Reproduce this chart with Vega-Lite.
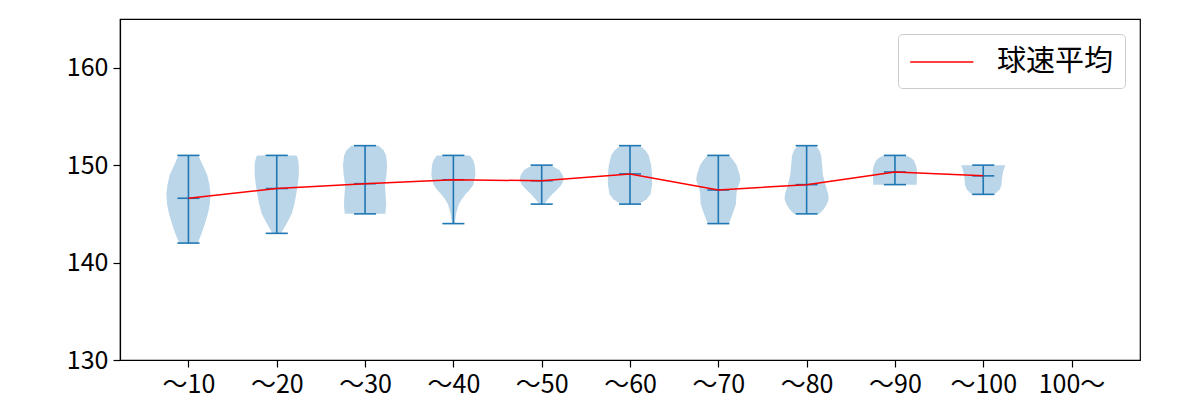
{
  "$schema": "https://vega.github.io/schema/vega-lite/v6.json",
  "autosize": {"type": "none"},
  "width": 1020,
  "height": 341,
  "padding": {"left": 120, "top": 19, "right": 60, "bottom": 40},
  "background": "white",
  "config": {
    "font": "Noto Sans CJK JP",
    "view": {"stroke": "black", "strokeWidth": 1.2},
    "axis": {
      "domainColor": "black", "domainWidth": 1.2,
      "tickColor": "black", "tickWidth": 1.2, "tickSize": 7,
      "labelColor": "black", "labelFont": "Noto Sans CJK JP", "labelFontSize": 25,
      "labelPadding": 5, "grid": false, "title": null
    },
    "legend": {
      "labelFont": "Noto Sans CJK JP", "labelFontSize": 29, "labelColor": "black"
    }
  },
  "datasets": {
    "violin": [
      {"c": 1, "v": 151, "d": 0.45}, {"c": 1, "v": 150, "d": 0.65}, {"c": 1, "v": 149, "d": 0.85}, {"c": 1, "v": 148, "d": 0.95}, {"c": 1, "v": 147, "d": 1.0}, {"c": 1, "v": 146, "d": 0.97}, {"c": 1, "v": 145, "d": 0.88}, {"c": 1, "v": 144, "d": 0.75}, {"c": 1, "v": 143, "d": 0.6}, {"c": 1, "v": 142, "d": 0.42},
      {"c": 2, "v": 151, "d": 0.9}, {"c": 2, "v": 150.5, "d": 0.97}, {"c": 2, "v": 150, "d": 1.0}, {"c": 2, "v": 149, "d": 1.0}, {"c": 2, "v": 148, "d": 0.95}, {"c": 2, "v": 147, "d": 0.88}, {"c": 2, "v": 146, "d": 0.8}, {"c": 2, "v": 145, "d": 0.68}, {"c": 2, "v": 144, "d": 0.45}, {"c": 2, "v": 143, "d": 0.2},
      {"c": 3, "v": 152, "d": 0.62}, {"c": 3, "v": 151.5, "d": 0.85}, {"c": 3, "v": 151, "d": 0.95}, {"c": 3, "v": 150, "d": 1.0}, {"c": 3, "v": 149, "d": 0.97}, {"c": 3, "v": 148, "d": 0.9}, {"c": 3, "v": 147, "d": 0.93}, {"c": 3, "v": 146, "d": 0.96}, {"c": 3, "v": 145, "d": 0.92},
      {"c": 4, "v": 151, "d": 0.75}, {"c": 4, "v": 150.5, "d": 0.9}, {"c": 4, "v": 150, "d": 0.97}, {"c": 4, "v": 149, "d": 1.0}, {"c": 4, "v": 148, "d": 0.9}, {"c": 4, "v": 147.5, "d": 0.75}, {"c": 4, "v": 147, "d": 0.55}, {"c": 4, "v": 146.5, "d": 0.38}, {"c": 4, "v": 146, "d": 0.25}, {"c": 4, "v": 145, "d": 0.12}, {"c": 4, "v": 144, "d": 0.06},
      {"c": 5, "v": 150, "d": 0.42}, {"c": 5, "v": 149.5, "d": 0.8}, {"c": 5, "v": 149, "d": 0.95}, {"c": 5, "v": 148.5, "d": 1.0}, {"c": 5, "v": 148, "d": 0.9}, {"c": 5, "v": 147.5, "d": 0.7}, {"c": 5, "v": 147, "d": 0.48}, {"c": 5, "v": 146.5, "d": 0.28}, {"c": 5, "v": 146, "d": 0.12},
      {"c": 6, "v": 152, "d": 0.45}, {"c": 6, "v": 151.5, "d": 0.7}, {"c": 6, "v": 151, "d": 0.85}, {"c": 6, "v": 150, "d": 0.96}, {"c": 6, "v": 149, "d": 1.0}, {"c": 6, "v": 148, "d": 1.0}, {"c": 6, "v": 147, "d": 0.93}, {"c": 6, "v": 146.5, "d": 0.75}, {"c": 6, "v": 146, "d": 0.42},
      {"c": 7, "v": 151, "d": 0.5}, {"c": 7, "v": 150.5, "d": 0.68}, {"c": 7, "v": 150, "d": 0.83}, {"c": 7, "v": 149, "d": 0.97}, {"c": 7, "v": 148.5, "d": 1.0}, {"c": 7, "v": 148, "d": 0.93}, {"c": 7, "v": 147.5, "d": 0.85}, {"c": 7, "v": 147, "d": 0.82}, {"c": 7, "v": 146, "d": 0.8}, {"c": 7, "v": 145, "d": 0.65}, {"c": 7, "v": 144, "d": 0.48},
      {"c": 8, "v": 152, "d": 0.42}, {"c": 8, "v": 151.5, "d": 0.58}, {"c": 8, "v": 151, "d": 0.66}, {"c": 8, "v": 150, "d": 0.7}, {"c": 8, "v": 149, "d": 0.74}, {"c": 8, "v": 148, "d": 0.85}, {"c": 8, "v": 147, "d": 0.98}, {"c": 8, "v": 146.5, "d": 1.0}, {"c": 8, "v": 146, "d": 0.92}, {"c": 8, "v": 145.5, "d": 0.78}, {"c": 8, "v": 145, "d": 0.58},
      {"c": 9, "v": 151, "d": 0.5}, {"c": 9, "v": 150.75, "d": 0.72}, {"c": 9, "v": 150.5, "d": 0.85}, {"c": 9, "v": 150, "d": 0.95}, {"c": 9, "v": 149.5, "d": 1.0}, {"c": 9, "v": 149, "d": 1.0}, {"c": 9, "v": 148.5, "d": 0.99}, {"c": 9, "v": 148, "d": 0.98},
      {"c": 10, "v": 150, "d": 1.0}, {"c": 10, "v": 149.5, "d": 0.92}, {"c": 10, "v": 149, "d": 0.87}, {"c": 10, "v": 148.5, "d": 0.84}, {"c": 10, "v": 148, "d": 0.83}, {"c": 10, "v": 147.5, "d": 0.75}, {"c": 10, "v": 147, "d": 0.52}
    ],
    "stats": [
      {"c": 1, "min": 142, "max": 151, "mean": 146.6},
      {"c": 2, "min": 143, "max": 151, "mean": 147.6},
      {"c": 3, "min": 145, "max": 152, "mean": 148.1},
      {"c": 4, "min": 144, "max": 151, "mean": 148.5},
      {"c": 5, "min": 146, "max": 150, "mean": 148.4},
      {"c": 6, "min": 146, "max": 152, "mean": 149.1},
      {"c": 7, "min": 144, "max": 151, "mean": 147.45},
      {"c": 8, "min": 145, "max": 152, "mean": 148.0},
      {"c": 9, "min": 148, "max": 151, "mean": 149.3},
      {"c": 10, "min": 147, "max": 150, "mean": 148.9}
    ]
  },
  "layer": [
    {
      "data": {"name": "violin"},
      "transform": [
        {"calculate": "datum.c - 0.25 * datum.d", "as": "lo"},
        {"calculate": "datum.c + 0.25 * datum.d", "as": "hi"}
      ],
      "mark": {"type": "area", "orient": "horizontal", "fill": "#1f77b4", "fillOpacity": 0.3, "stroke": null},
      "encoding": {
        "y": {"field": "v", "type": "quantitative", "scale": {"domain": [130, 165], "nice": false, "zero": false},
              "axis": {"values": [130, 140, 150, 160]}},
        "x": {"field": "lo", "type": "quantitative", "scale": {"domain": [0.225, 11.775], "nice": false, "zero": false},
              "axis": {"values": [1, 2, 3, 4, 5, 6, 7, 8, 9, 10, 11],
                       "labelExpr": "['～10','～20','～30','～40','～50','～60','～70','～80','～90','～100','100～'][datum.value - 1]"}},
        "x2": {"field": "hi"},
        "detail": {"field": "c"}
      }
    },
    {
      "data": {"name": "stats"},
      "mark": {"type": "rule", "color": "#1f77b4", "strokeWidth": 1.6},
      "encoding": {
        "x": {"field": "c", "type": "quantitative"},
        "y": {"field": "min", "type": "quantitative"},
        "y2": {"field": "max"}
      }
    },
    {
      "data": {"name": "stats"},
      "transform": [
        {"calculate": "datum.c - 0.125", "as": "l"},
        {"calculate": "datum.c + 0.125", "as": "r"},
        {"fold": ["min", "max", "mean"], "as": ["stat", "val"]}
      ],
      "mark": {"type": "rule", "color": "#1f77b4", "strokeWidth": 1.6},
      "encoding": {
        "x": {"field": "l", "type": "quantitative"},
        "x2": {"field": "r"},
        "y": {"field": "val", "type": "quantitative"}
      }
    },
    {
      "data": {"name": "stats"},
      "mark": {"type": "line", "strokeWidth": 1.5},
      "encoding": {
        "x": {"field": "c", "type": "quantitative"},
        "y": {"field": "mean", "type": "quantitative"},
        "color": {
          "datum": "球速平均",
          "scale": {"range": ["red"]},
          "legend": {
            "title": null, "orient": "top-right", "offset": 15,
            "symbolType": "M-1,0H3", "symbolSize": 1000, "symbolStrokeWidth": 1.5,
            "labelOffset": 54, "padding": 11,
            "fillColor": "white", "strokeColor": "#cccccc", "cornerRadius": 4
          }
        }
      }
    }
  ]
}
